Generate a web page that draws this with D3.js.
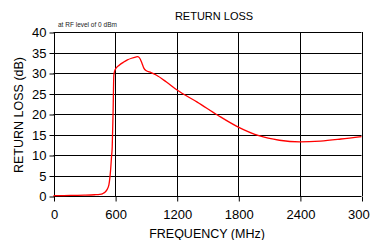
<!DOCTYPE html>
<html><head><meta charset="utf-8">
<script src="https://cdn.jsdelivr.net/npm/d3@7"></script>
<style>body{margin:0;background:#fff}svg{display:block}text{font-family:"Liberation Sans",Arial,sans-serif}</style>
</head><body>
<script>
const freqs = [0,100,200,300,400,450,480,500,520,540,555,565,572,580,588,600,640,680,720,760,800,820,840,860,880,900,950,1000,1100,1200,1400,1600,1800,2000,2200,2400,2600,2800,3000];
const returnLoss = [0.1,0.1,0.15,0.2,0.3,0.4,0.6,0.9,1.5,2.8,6,9.5,12,20,29.5,30.8,31.9,32.6,33.2,33.6,33.9,34.0,33.6,32.5,31.2,30.6,30.1,29.5,27.8,25.9,22.9,19.7,16.8,14.7,13.6,13.2,13.4,13.9,14.5];
const xTicks = [0,600,1200,1800,2400,3000];
const yTicks = [0,5,10,15,20,25,30,35,40];

const W=370,H=240;
const svg=d3.select("body").append("svg").attr("width",W).attr("height",H);
const x=d3.scaleLinear().domain([0,3000]).range([53.5,361.5]);
const y=d3.scaleLinear().domain([0,40]).range([196,32]);

const g=svg.append("g");
g.selectAll(".hg").data(yTicks).join("line")
 .attr("x1",x(0)).attr("x2",x(3000)).attr("y1",d=>Math.round(y(d))+0.5).attr("y2",d=>Math.round(y(d))+0.5)
 .attr("stroke","#000").attr("stroke-width",1);
g.selectAll(".vg").data(xTicks).join("line")
 .attr("x1",d=>Math.round(x(d))+0.5).attr("x2",d=>Math.round(x(d))+0.5).attr("y1",y(40)).attr("y2",y(0))
 .attr("stroke","#000").attr("stroke-width",1);

const yAxis=d3.axisLeft(y).tickValues(yTicks).tickSize(5).tickPadding(3).tickFormat(d3.format("d"));
const ya=svg.append("g").attr("transform",`translate(${Math.round(x(0))+0.5},0.5)`).call(yAxis);
ya.select(".domain").remove();
ya.selectAll("text").attr("font-size",13).attr("fill","#000");
ya.selectAll("line").attr("stroke","#000");

const xAxis=d3.axisBottom(x).tickValues(xTicks).tickSize(5).tickPadding(8).tickFormat(d3.format("d"));
const xa=svg.append("g").attr("transform",`translate(0.5,${Math.round(y(0))+0.5})`).call(xAxis);
xa.select(".domain").remove();
xa.selectAll("text").attr("font-size",13).attr("fill","#000");
xa.selectAll("line").attr("stroke","#000");

const line=d3.line().x((d,i)=>x(freqs[i])).y(d=>y(d)).curve(d3.curveMonotoneX);
svg.append("path").attr("d",line(returnLoss)).attr("fill","none").attr("stroke","#ff0000").attr("stroke-width",1.3);

svg.append("text").attr("x",214).attr("y",20).attr("text-anchor","middle").attr("font-size",11).text("RETURN LOSS");
svg.append("text").attr("x",58).attr("y",27).attr("font-size",6.5).attr("fill","#222").text("at RF level of 0 dBm");
svg.append("text").attr("transform","translate(23,115) rotate(-90)").attr("text-anchor","middle").attr("font-size",12.5).text("RETURN LOSS (dB)");
svg.append("text").attr("x",207).attr("y",238).attr("text-anchor","middle").attr("font-size",12.5).text("FREQUENCY (MHz)");
</script>
</body></html>
